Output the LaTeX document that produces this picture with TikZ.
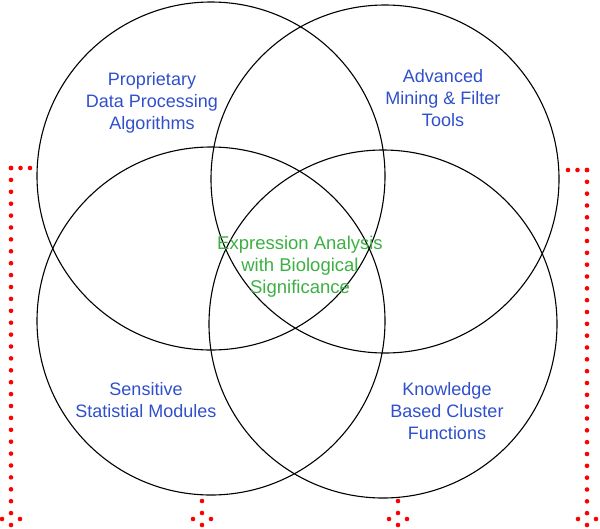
\documentclass[tikz,border=0pt]{standalone}
\usepackage{fontspec}
\setmainfont{Liberation Sans}
\usetikzlibrary{calc}
\definecolor{labelblue}{RGB}{47,79,204}
\definecolor{labelgreen}{RGB}{60,176,67}
\tikzset{
    ring/.style={draw=black, line width=1.1pt},
    lbl/.style={align=center, font=\fontsize{18}{22}\selectfont, text=labelblue},
}
\newcommand{\setup}{
    \coordinate (tl) at (211,176);
    \coordinate (tr) at (385,179);
    \coordinate (bl) at (211,321);
    \coordinate (br) at (383,324);

    \coordinate (lt) at (30,168);
    \coordinate (lc) at (11,168);
    \coordinate (lb) at (11,525);
    \coordinate (rt) at (568,170);
    \coordinate (rc) at (587,170);
    \coordinate (rb) at (587,525);
    \coordinate (mlt) at (202,501);
    \coordinate (mlb) at (202,525);
    \coordinate (mrt) at (398,501);
    \coordinate (mrb) at (398,525);
}
\newcommand{\dotline}[3]{
  \foreach \k in {0,...,#3}
    \fill[red] ($(#1)!\k/#3!(#2)$) circle (2.3pt);
}
\newcommand{\dothead}[1]{
  \fill[red] ($(#1)+(-9,-6)$) circle (2.3pt);
  \fill[red] ($(#1)+(9,-6)$) circle (2.3pt);
}
\begin{document}
\begin{tikzpicture}[x=1pt,y=-1pt]
          \useasboundingbox (0,0) rectangle (600,528);
          \setup;

          \draw[ring] (tl) circle [radius=174pt];
          \draw[ring] (tr) circle [radius=174pt];
          \draw[ring] (bl) circle [radius=174pt];
          \draw[ring] (br) circle [radius=174pt];

          \node[lbl] (proc) at (152,103) {Proprietary\\Data Processing\\Algorithms};
          \node[lbl] (mine) at (443,98) {Advanced\\Mining \& Filter\\Tools};
          \node[lbl,text=labelgreen,font=\fontsize{18.5}{22}\selectfont] (expr) at (300,267) {Expression Analysis\\with Biological\\Significance};
          \node[lbl] (stat) at (146,400) {Sensitive\\Statistial Modules};
          \node[lbl] (know) at (447,411) {Knowledge\\Based Cluster\\Functions};

          % side brackets
          \dotline{lc}{lt}{2};
          \dotline{lc}{lb}{30};
          \dotline{rc}{rt}{2};
          \dotline{rc}{rb}{30};
          \dotline{mlt}{mlb}{2};
          \dotline{mrt}{mrb}{2};

          \dothead{lb};
          \dothead{rb};
          \dothead{mlb};
          \dothead{mrb};
        \end{tikzpicture}
\end{document}
